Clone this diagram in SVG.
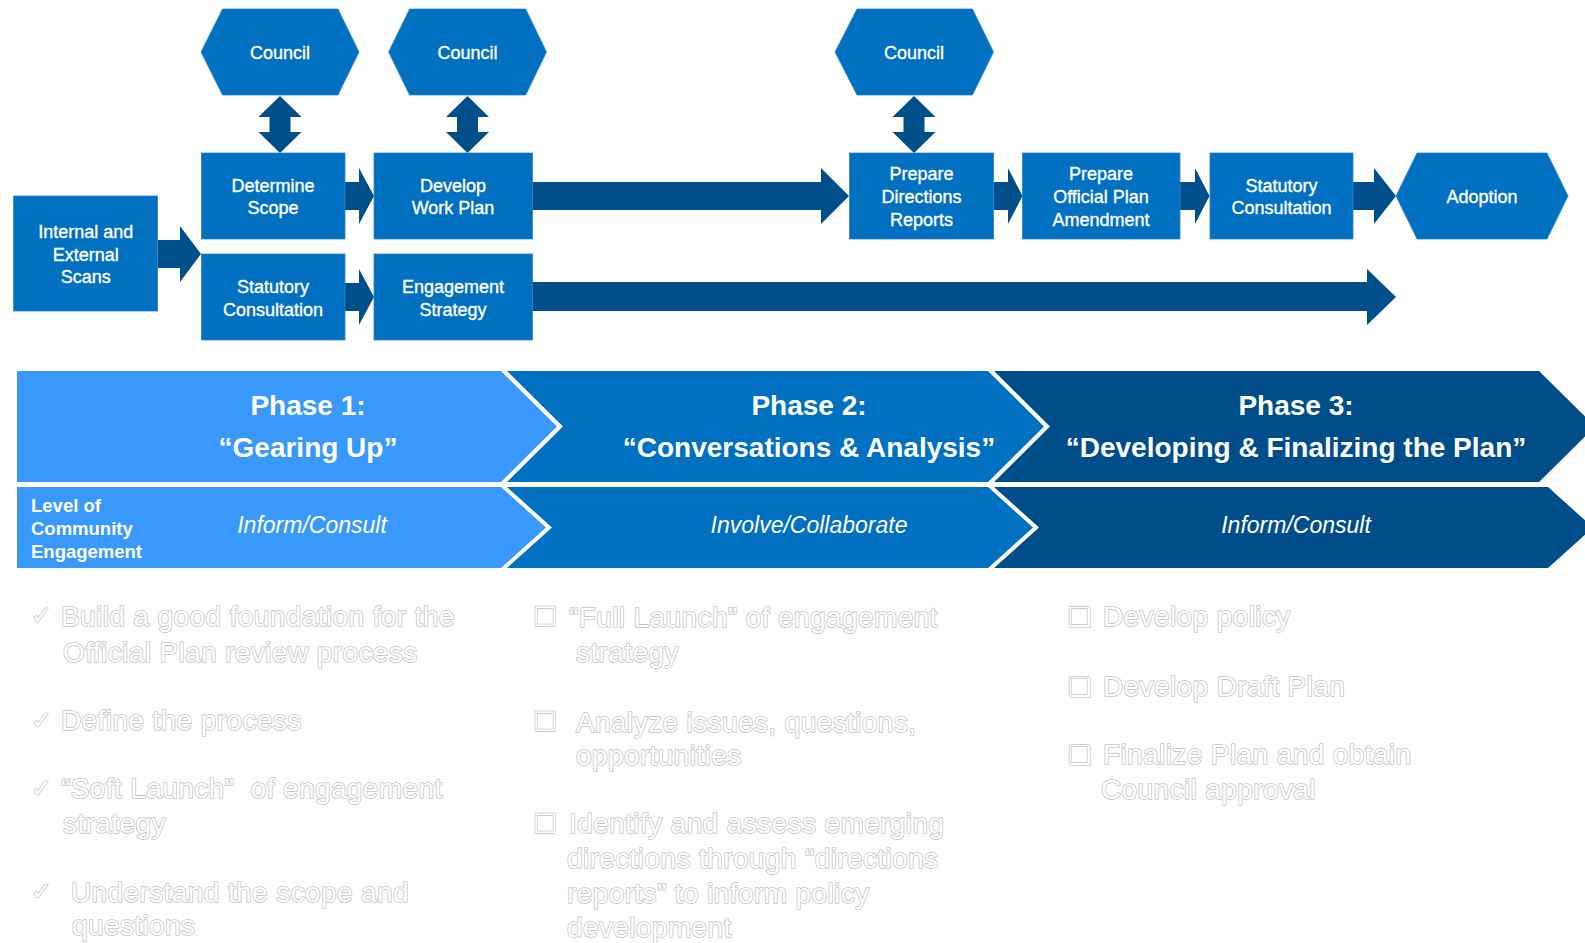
<svg xmlns="http://www.w3.org/2000/svg" width="1585" height="943" viewBox="0 0 1585 943">
<style>
.box{fill:#0070C0;stroke:#2f86cc;stroke-width:0.8}
.arr{fill:#004F8A}
.bt{font-family:"Liberation Sans",Arial,sans-serif;font-size:18px;fill:#fff;stroke:#fff;stroke-width:0.35;text-anchor:middle}
.ph{font-family:"Liberation Sans",Arial,sans-serif;font-size:28px;font-weight:bold;fill:#fff;text-anchor:middle}
.lv{font-family:"Liberation Sans",Arial,sans-serif;font-size:18.5px;font-weight:bold;fill:#fff}
.it{font-family:"Liberation Sans",Arial,sans-serif;font-size:23px;font-style:italic;fill:#fff;text-anchor:middle}
.bl{font-family:"Liberation Sans",Arial,sans-serif;font-size:28px;letter-spacing:0.4px;fill:#fff;stroke:#c4c4c4;stroke-width:1.6;paint-order:stroke;stroke-linejoin:round}
.sym{font-family:"DejaVu Sans",sans-serif;fill:#fff;stroke:#c4c4c4;stroke-width:1.4;paint-order:stroke}
</style>
<rect width="1585" height="943" fill="#fff"/>

<g id="connectors">
<polygon class="arr" points="157.5,240 180,240 180,226 201,254 180,282 180,268 157.5,268"/>
<polygon class="arr" points="345,182 359,182 359,168 374,196 359,224 359,210 345,210"/>
<polygon class="arr" points="345,283 359,283 359,269 374,297 359,325 359,311 345,311"/>
<polygon class="arr" points="532,182 821,182 821,168 849,196 821,224 821,210 532,210"/>
<polygon class="arr" points="993.6,182 1008,182 1008,168 1022.5,196 1008,224 1008,210 993.6,210"/>
<polygon class="arr" points="1180,182 1195,182 1195,168 1209.5,196 1195,224 1195,210 1180,210"/>
<polygon class="arr" points="1353,182 1374,182 1374,168 1396,196 1374,224 1374,210 1353,210"/>
<polygon class="arr" points="532,282 1367,282 1367,269 1396,297 1367,325 1367,311 532,311"/>
<polygon class="arr" points="280,96 301.5,117 290.5,117 290.5,132 301.5,132 280,153 258.5,132 269.5,132 269.5,117 258.5,117"/>
<polygon class="arr" points="467.5,96 489,117 478,117 478,132 489,132 467.5,153 446,132 457,132 457,117 446,117"/>
<polygon class="arr" points="914,96 935.5,117 924.5,117 924.5,132 935.5,132 914,153 892.5,132 903.5,132 903.5,117 892.5,117"/>
</g>

<g id="council1">
<polygon class="box" points="201,52 222.5,9 338,9 359,52 338,95 222.5,95"/>
<text class="bt" x="280" y="58.5">Council</text>
</g>
<g id="council2">
<polygon class="box" points="388.6,52 409.6,9 525.7,9 546.5,52 525.7,95 409.6,95"/>
<text class="bt" x="467.5" y="58.5">Council</text>
</g>
<g id="council3">
<polygon class="box" points="835,52 857,9 972.5,9 993.5,52 972.5,95 857,95"/>
<text class="bt" x="914" y="58.5">Council</text>
</g>

<g id="scans">
<rect class="box" x="13.6" y="196" width="144" height="115"/>
<text class="bt" x="85.7" y="237.7">Internal and</text>
<text class="bt" x="85.7" y="260.7">External</text>
<text class="bt" x="85.7" y="283.3">Scans</text>
</g>
<g id="determine-scope">
<rect class="box" x="201.4" y="153" width="143.6" height="86"/>
<text class="bt" x="273" y="191.7">Determine</text>
<text class="bt" x="273" y="214.3">Scope</text>
</g>
<g id="statutory1">
<rect class="box" x="201.4" y="254" width="143.6" height="86"/>
<text class="bt" x="273" y="293.3">Statutory</text>
<text class="bt" x="273" y="315.7">Consultation</text>
</g>
<g id="work-plan">
<rect class="box" x="374" y="153" width="158.5" height="86"/>
<text class="bt" x="453" y="191.7">Develop</text>
<text class="bt" x="453" y="214.3">Work Plan</text>
</g>
<g id="engagement-strategy">
<rect class="box" x="374" y="254" width="158.5" height="86"/>
<text class="bt" x="453" y="293.3">Engagement</text>
<text class="bt" x="453" y="315.7">Strategy</text>
</g>
<g id="directions-reports">
<rect class="box" x="849.6" y="153" width="144" height="86"/>
<text class="bt" x="921.6" y="180">Prepare</text>
<text class="bt" x="921.6" y="202.7">Directions</text>
<text class="bt" x="921.6" y="225.7">Reports</text>
</g>
<g id="opa">
<rect class="box" x="1022.5" y="153" width="157.5" height="86"/>
<text class="bt" x="1101" y="180">Prepare</text>
<text class="bt" x="1101" y="202.7">Official Plan</text>
<text class="bt" x="1101" y="225.7">Amendment</text>
</g>
<g id="statutory2">
<rect class="box" x="1210" y="153" width="143" height="86"/>
<text class="bt" x="1281.5" y="191.7">Statutory</text>
<text class="bt" x="1281.5" y="214.3">Consultation</text>
</g>
<g id="adoption">
<polygon class="box" points="1396,196 1417,153 1547,153 1568,196 1547,239 1417,239"/>
<text class="bt" x="1482" y="202.7">Adoption</text>
</g>

<g id="phase3">
<polygon fill="#004E89" points="994,371 1539,371 1595,426.5 1539,482 994,482 1050,426.5"/>
<polygon fill="#004E89" points="994,487 1548,487 1593,527.5 1548,568 994,568 1039,527.5"/>
<text class="ph" x="1296" y="415">Phase 3:</text>
<text class="ph" x="1296" y="457">“Developing &amp; Finalizing the Plan”</text>
<text class="it" x="1296" y="533">Inform/Consult</text>
</g>
<g id="phase2">
<polygon fill="#0070C0" points="507,371 988,371 1044,426.5 988,482 507,482 563,426.5"/>
<polygon fill="#0070C0" points="507,487 988,487 1033,527.5 988,568 507,568 552,527.5"/>
<text class="ph" x="809" y="415">Phase 2:</text>
<text class="ph" x="809" y="457">“Conversations &amp; Analysis”</text>
<text class="it" x="809" y="533">Involve/Collaborate</text>
</g>
<g id="phase1">
<polygon fill="#3899FA" points="17,371 501,371 557,426.5 501,482 17,482"/>
<polygon fill="#3899FA" points="17,487 501,487 546,527.5 501,568 17,568"/>
<text class="ph" x="308" y="415">Phase 1:</text>
<text class="ph" x="308" y="457">“Gearing Up”</text>
<text class="lv" x="31" y="511.5">Level of</text>
<text class="lv" x="31" y="535">Community</text>
<text class="lv" x="31" y="558">Engagement</text>
<text class="it" x="312" y="533">Inform/Consult</text>
</g>

<g id="phase1-list">
<text class="sym" x="31" y="624" font-size="25">✓</text>
<text class="bl" x="61" y="625.7">Build a good foundation for the</text>
<text class="bl" x="63" y="661.7">Official Plan review process</text>
<text class="sym" x="31" y="729" font-size="25">✓</text>
<text class="bl" x="61" y="730">Define the process</text>
<text class="sym" x="31" y="797" font-size="25">✓</text>
<text class="bl" x="61" y="798">“Soft Launch”&#160; of engagement</text>
<text class="bl" x="63" y="833">strategy</text>
<text class="sym" x="31" y="900" font-size="25">✓</text>
<text class="bl" x="71" y="901.7">Understand the scope and</text>
<text class="bl" x="72" y="935">questions</text>
</g>

<g id="phase2-list">
<text class="sym" x="533" y="626" font-size="27">☐</text>
<text class="bl" x="569" y="626.7">“Full Launch” of engagement</text>
<text class="bl" x="576" y="662">strategy</text>
<text class="sym" x="533" y="731" font-size="27">☐</text>
<text class="bl" x="576" y="731.7">Analyze issues, questions,</text>
<text class="bl" x="576" y="765">opportunities</text>
<text class="sym" x="533" y="833" font-size="27">☐</text>
<text class="bl" x="569" y="833">Identify and assess emerging</text>
<text class="bl" x="567" y="868">directions through “directions</text>
<text class="bl" x="567" y="903">reports” to inform policy</text>
<text class="bl" x="567" y="937">development</text>
</g>

<g id="phase3-list">
<text class="sym" x="1068" y="626" font-size="26">❑</text>
<text class="bl" x="1103" y="626">Develop policy</text>
<text class="sym" x="1068" y="696" font-size="26">❑</text>
<text class="bl" x="1103" y="696">Develop Draft Plan</text>
<text class="sym" x="1068" y="764" font-size="26">❑</text>
<text class="bl" x="1103" y="764">Finalize Plan and obtain</text>
<text class="bl" x="1101" y="799">Council approval</text>
</g>
</svg>
